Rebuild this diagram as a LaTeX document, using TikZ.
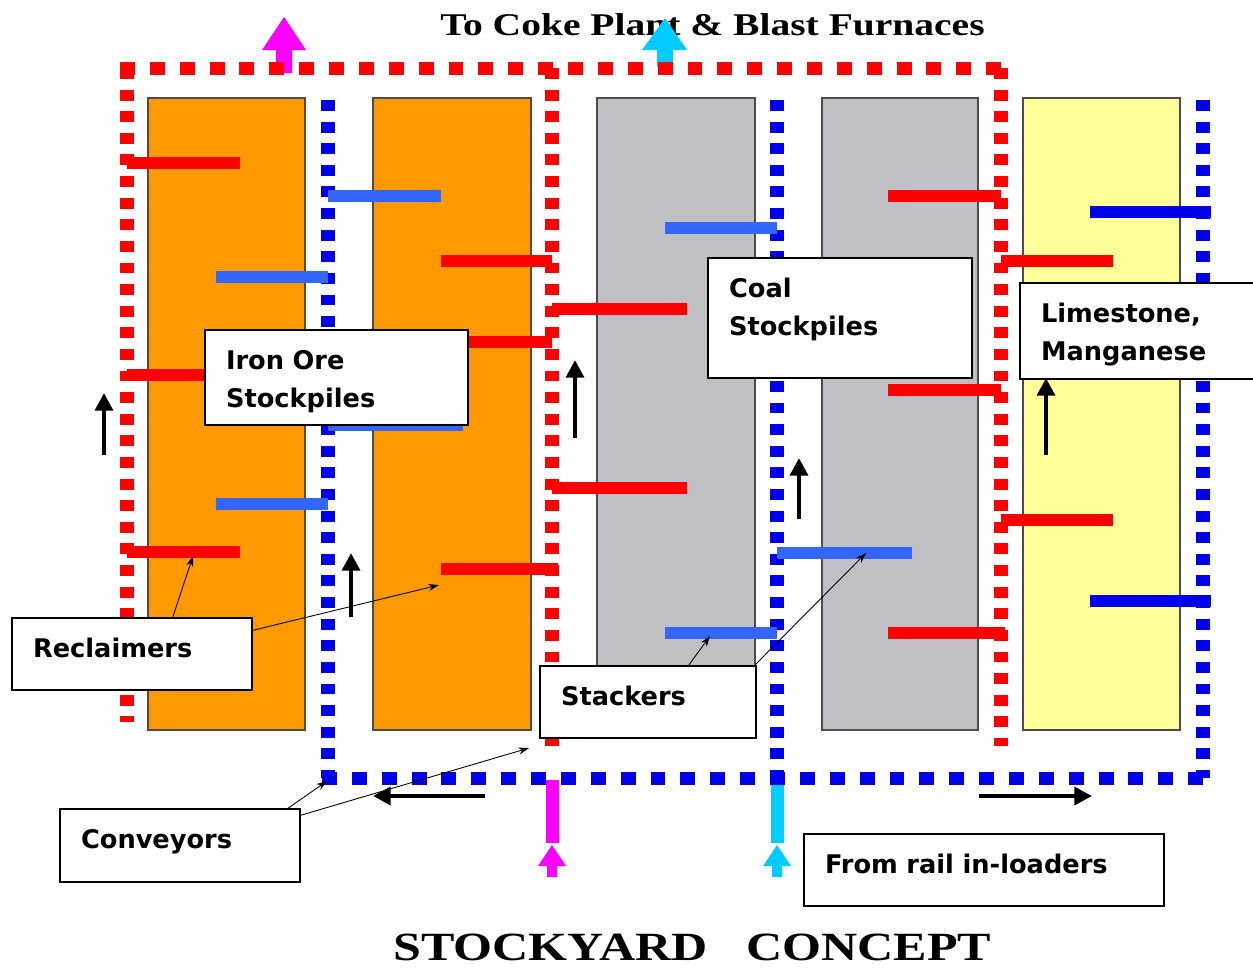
\documentclass[tikz,border=0pt]{standalone}
\usepackage{fontspec}
\setmainfont{Liberation Serif}
\newfontfamily\titlefont[FakeStretch=1.25]{Liberation Serif}
\newfontfamily\labelfont{DejaVu Sans}
\usetikzlibrary{arrows.meta}

\definecolor{oreorange}{RGB}{255,153,0}
\definecolor{coalgray}{RGB}{192,192,196}
\definecolor{limeyellow}{RGB}{255,255,153}
\definecolor{dotred}{RGB}{255,0,0}
\definecolor{dotblue}{RGB}{0,0,235}
\definecolor{barblue}{RGB}{51,102,255}
\definecolor{magarrow}{RGB}{255,0,255}
\definecolor{cyanarrow}{RGB}{0,204,255}

\begin{document}
\begin{tikzpicture}[x=0.02cm, y=-0.02cm,
    pile/.style={draw=black!70, line width=0.6pt},
    hred/.style={draw=dotred, line width=7.4pt, dash pattern=on 8.5pt off 8.5pt},
    vred/.style={draw=dotred, line width=7.9pt, dash pattern=on 6.2pt off 6.1pt},
    hblue/.style={draw=dotblue, line width=7.4pt, dash pattern=on 8.5pt off 8.5pt},
    vblue/.style={draw=dotblue, line width=7.9pt, dash pattern=on 6.2pt off 6.1pt},
    bar/.style={line width=6.8pt},
    flow/.style={line width=2.8pt, -{Triangle[width=10pt,length=10pt]}},
    callout/.style={draw, fill=white, line width=1.1pt, anchor=north west,
        inner xsep=12pt, inner ysep=0pt, text height=22.7pt, align=left,
        font=\labelfont\bfseries\fontsize{14.6}{21.5}\selectfont},
    pointer/.style={-{Stealth[length=6pt,width=4pt]}, line width=0.5pt},
    heading/.style={inner sep=0pt, anchor=base west, font=\titlefont\bfseries}]

    \useasboundingbox (0,0) rectangle (1253,968);
    \clip (0,0) rectangle (1253,968);
    \fill[white] (0,0) rectangle (1253,968);

    % Titles
    \node[heading, font=\titlefont\bfseries\fontsize{18}{20}\selectfont] (toplant) at (440,35) {To Coke Plant \& Blast Furnaces};
    \node[heading, font=\titlefont\bfseries\fontsize{22.8}{24}\selectfont] (yardname) at (393,960) {STOCKYARD\hspace{22pt}CONCEPT};

    % Outgoing block arrows
    \fill[magarrow] (276,73) -- (276,50) -- (262,50) -- (284,17) -- (306,50) -- (292,50) -- (292,73) -- cycle;
    \fill[cyanarrow] (657,67) -- (657,50) -- (642,50) -- (665,18) -- (687,50) -- (673,50) -- (673,67) -- cycle;

    % Stockpiles
    \draw[pile, fill=oreorange] (148,98) rectangle (305,730);
    \draw[pile, fill=oreorange] (373,98) rectangle (531,730);
    \draw[pile, fill=coalgray] (597,98) rectangle (755,730);
    \draw[pile, fill=coalgray] (822,98) rectangle (978,730);
    \draw[pile, fill=limeyellow] (1023,98) rectangle (1180,730);

    % Incoming feeds
    \foreach \cx/\col in {552/magarrow, 777/cyanarrow} {
        \fill[\col] (\cx-6.5,780) rectangle (\cx+6.5,843);
        \fill[\col] (\cx-5,877) -- (\cx-5,866) -- (\cx-14,866) -- (\cx,845) -- (\cx+14,866) -- (\cx+5,866) -- (\cx+5,877) -- cycle;
    }

    % Reclaim conveyors (red)
    \draw[hred] (120,68) -- (1007,68);
    \draw[vred] (127,68) -- (127,722);
    \draw[vred] (552,68) -- (552,746);
    \draw[vred] (1001,68) -- (1001,746);

    % Stacking conveyors (blue)
    \draw[vblue] (328,100) -- (328,778);
    \draw[vblue] (777,100) -- (777,778);
    \draw[vblue] (1203,100) -- (1203,778);
    \draw[hblue] (322,778) -- (1210,778);

    % Reclaimers
    \foreach \y/\xa/\xb in {163/127/240, 375/127/240, 552/127/240, 261/441/552, 342/441/552,
        569/441/558, 309/552/687, 488/552/687, 196/888/1001, 390/888/1001, 633/888/1005,
        261/1001/1113, 520/1001/1113}
        \draw[bar, dotred] (\xa,\y) -- (\xb,\y);

    % Stackers
    \foreach \y/\xa/\xb in {196/328/441, 277/216/328, 425/328/463, 504/216/328,
        228/665/777, 553/777/912, 633/665/777}
        \draw[bar, barblue] (\xa,\y) -- (\xb,\y);
    \foreach \y in {212, 601}
        \draw[bar, dotblue] (1090,\y) -- (1211,\y);

    % Flow directions
    \foreach \x/\ya/\yb in {104/455/393, 351/617/553, 575/438/360, 799/519/458, 1046/455/378}
        \draw[flow] (\x,\ya) -- (\x,\yb);
    \draw[flow] (485,796) -- (373,796);
    \draw[flow] (979,796) -- (1092,796);

    % Callouts
    \node[callout, text width=125.7pt, text depth=31.2pt] (ironore) at (204,329) {Iron Ore\\Stockpiles};
    \node[callout, text width=126.2pt, text depth=45.4pt] (coal) at (707,257) {Coal\\Stockpiles};
    \node[callout, text width=126.2pt, text depth=31.8pt] (limestone) at (1019,282) {Limestone,\\Manganese};
    \node[callout, text width=112.6pt, text depth=18.1pt] (reclaimers) at (11,617) {Reclaimers};
    \node[callout, text width=99pt, text depth=18.1pt] (stackers) at (539,665) {Stackers};
    \node[callout, text width=112.6pt, text depth=18.7pt] (conveyors) at (59,808) {Conveyors};
    \node[callout, text width=180.7pt, text depth=18.1pt] (railin) at (803,833) {From rail in-loaders};

    % Pointer targets
    \coordinate (reclaimA) at (193,556);
    \coordinate (reclaimB) at (439,585);
    \coordinate (stackA) at (710,636);
    \coordinate (stackB) at (866,553);
    \coordinate (convA) at (327,781);
    \coordinate (convB) at (529,748);

    \draw[pointer] (reclaimers.42) -- (reclaimA);
    \draw[pointer] (reclaimers.11) -- (reclaimB);
    \draw[pointer] (stackers.42) -- (stackA);
    \draw[pointer] (stackers.19) -- (stackB);
    \draw[pointer] (conveyors.19) -- (convA);
    \draw[pointer] (conveyors.14) -- (convB);
\end{tikzpicture}
\end{document}
